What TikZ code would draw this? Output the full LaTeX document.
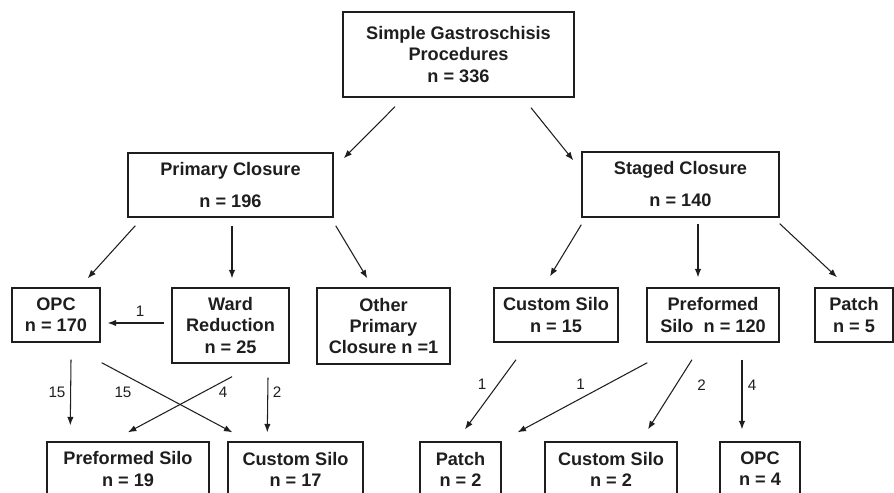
\documentclass[tikz,border=0pt]{standalone}
\usepackage{fontspec}
\setmainfont{Liberation Sans}
\usetikzlibrary{arrows.meta}
\definecolor{ink}{HTML}{1E1E1E}
\tikzset{
  box/.style={draw=ink, line width=1.2pt, inner sep=0pt, align=center, text=ink,
    font=\fontsize{15.5pt}{18pt}\selectfont\bfseries},
  arr/.style={draw=ink, line width=0.9pt, -{Latex[length=2.5mm,width=1.9mm]}},
  lbl/.style={text=ink, inner sep=0pt, font=\fontsize{13pt}{15pt}\selectfont},
}

\begin{document}
\begin{tikzpicture}[x=0.3mm, y=-0.3mm]
  \path[use as bounding box, clip] (0,0) rectangle (894,493);

  % Top level
  \node[box, minimum width=69.3mm, minimum height=25.5mm] (top) at (458.5,54.5)
    {Simple Gastroschisis\\Procedures\\n = 336};

  % Closure type
  \node[box, minimum width=61.5mm, minimum height=19.2mm] (prim) at (230.5,185)
    {Primary Closure\\[9.3pt]n = 196};
  \node[box, minimum width=59.1mm, minimum height=19.5mm] (stag) at (680.5,184.5)
    {Staged Closure\\[9.3pt]n = 140};

  % Second row
  \node[box, minimum width=26.4mm, minimum height=16.2mm] (opc) at (56,315) {OPC\\n = 170};
  \node[box, minimum width=35.1mm, minimum height=22.5mm] (ward) at (230.5,325.5)
    {Ward\\Reduction\\n = 25};
  \node[box, minimum width=39.9mm, minimum height=22.8mm] (other) at (383.5,326)
    {Other\\Primary\\Closure n =1};
  \node[box, minimum width=37.2mm, minimum height=16.2mm] (cs15) at (556,315)
    {Custom Silo\\n = 15};
  \node[box, minimum width=39.6mm, minimum height=16.2mm] (pre120) at (713,315)
    {Preformed\\Silo\ \ n = 120};
  \node[box, minimum width=23.4mm, minimum height=16.2mm] (patch5) at (854,315)
    {Patch\\n = 5};

  % Third row
  \node[box, minimum width=48.6mm, minimum height=16.2mm] (pre19) at (128,469)
    {Preformed Silo\\n = 19};
  \node[box, minimum width=40.5mm, minimum height=16.2mm] (cs17) at (295.5,469)
    {Custom Silo\\n = 17};
  \node[box, minimum width=24.3mm, minimum height=16.2mm] (patch2) at (460.5,469)
    {Patch\\n = 2};
  \node[box, minimum width=39.6mm, minimum height=16.2mm] (cs2) at (611,469)
    {Custom Silo\\n = 2};
  \node[box, minimum width=24mm, minimum height=16.2mm] (opc4) at (760,469)
    {OPC\\n = 4};

  % Arrows from the top
  \draw[arr] ([shift={(-63.5,9)}]top.south) -- ([shift={(10,6)}]prim.north east);
  \draw[arr] ([shift={(72.5,10)}]top.south) -- ([shift={(-8,9)}]stag.north west);

  % Primary closure split
  \draw[arr] ([shift={(8,8)}]prim.south west) -- ([shift={(-13,-9)}]opc.north east);
  \draw[arr] ([shift={(1.5,8)}]prim.south) -- ([shift={(1.5,-9)}]ward.north);
  \draw[arr] ([shift={(2,8)}]prim.south east) -- ([shift={(51,-9)}]other.north west);

  % Staged closure split
  \draw[arr] ([shift={(0,7)}]stag.south west) -- ([shift={(-6,-11)}]cs15.north);
  \draw[arr] ([shift={(17.5,6)}]stag.south) -- ([shift={(-15,-10)}]pre120.north);
  \draw[arr] ([shift={(0,6)}]stag.south east) -- ([shift={(-17,-10)}]patch5.north);

  % Conversions, primary side
  \draw[arr] ([shift={(-7,-2.5)}]ward.west) -- ([shift={(7,8)}]opc.east);
  \draw[arr] ([shift={(15,17)}]opc.south) -- ([shift={(24,-16)}]pre19.north west);
  \draw[arr] ([shift={(1,20)}]opc.south east) -- ([shift={(5,-9)}]cs17.north west);
  \draw[arr] ([shift={(1.5,13)}]ward.south) -- ([shift={(0,-9)}]pre19.north);
  \draw[arr] ([shift={(37.5,14)}]ward.south) -- ([shift={(40,-9)}]cs17.north west);
  \node[lbl] (lwo) at (140,311) {1};
  \node[lbl] (lop) at (57,392) {15};
  \node[lbl] (loc) at (123,392) {15};
  \node[lbl] (lwp) at (223,392) {4};
  \node[lbl] (lwc) at (277,392) {2};

  % Conversions, staged side
  \draw[arr] ([shift={(-40,17)}]cs15.south) -- ([shift={(4.5,-12)}]patch2.north);
  \draw[arr] ([shift={(1,20)}]pre120.south west) -- ([shift={(16,-9)}]patch2.north east);
  \draw[arr] ([shift={(-21,17)}]pre120.south) -- ([shift={(37,-12)}]cs2.north);
  \draw[arr] ([shift={(29,17)}]pre120.south) -- ([shift={(-18,-12)}]opc4.north);
  \node[lbl] (lcp) at (482,384) {1};
  \node[lbl] (lpp) at (580.5,384) {1};
  \node[lbl] (lpc) at (701.5,385.5) {2};
  \node[lbl] (lpo) at (752,385.5) {4};
\end{tikzpicture}
\end{document}
